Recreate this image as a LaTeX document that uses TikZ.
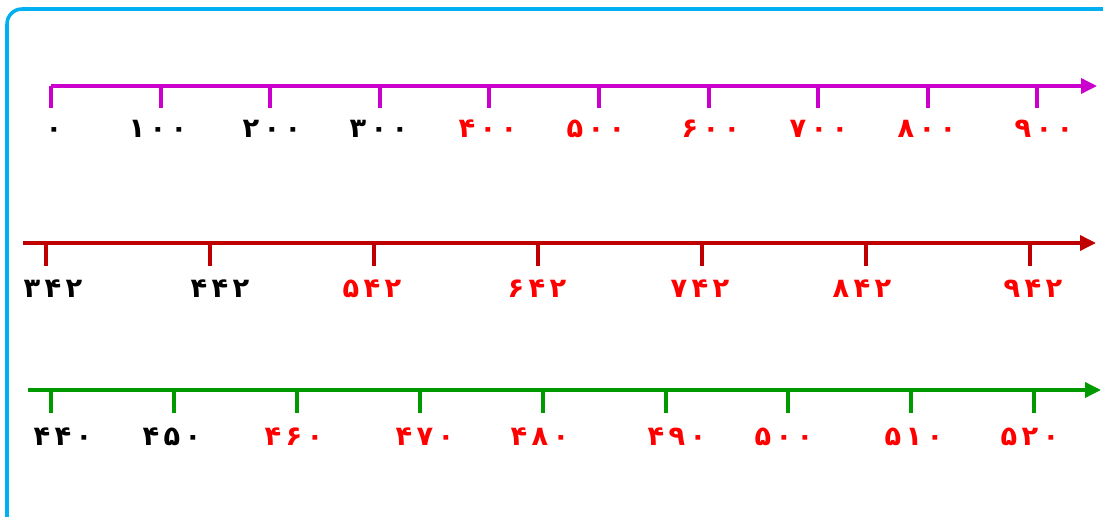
\documentclass[tikz,border=0pt]{standalone}
\usepackage{fontspec}
\usepackage{tikz}
\usetikzlibrary{arrows.meta}

\newfontfamily\persnum[Script=Arabic, LetterSpace=16]{DejaVu Sans}
\definecolor{framebl}{RGB}{0,176,240}
\definecolor{linemag}{RGB}{204,0,204}
\definecolor{linered}{RGB}{192,0,0}
\definecolor{linegrn}{RGB}{0,153,0}
\definecolor{numred}{RGB}{255,0,0}

\tikzset{
	numline/.style={line width=2pt, -{Triangle[length=0.32cm, width=0.3cm]}},
	tickmark/.style={line width=2pt},
	numlab/.style={font=\persnum\bfseries\fontsize{15.5}{18}\selectfont, inner sep=0pt, anchor=base},
}

\begin{document}
\begin{tikzpicture}[x=0.02cm, y=-0.02cm]
	\useasboundingbox (0,0) rectangle (1103,517);
	\clip (0,0) rectangle (1103,517);
	\draw [framebl, line width=2pt, rounded corners=0.3cm] (7,9) rectangle (1150,560);

	% first line: hundreds
	\coordinate (mstart) at (51,86);
	\coordinate (mend) at (1097,86);
	\draw [numline, linemag] (mstart) -- (mend);
	\foreach \x/\lx/\t/\c [count=\i] in {51/54/۰/black, 161/158/۱۰۰/black, 270/272/۲۰۰/black,
		380/379/۳۰۰/black, 489/488/۴۰۰/numred, 599/596/۵۰۰/numred, 709/711/۶۰۰/numred,
		818/819/۷۰۰/numred, 928/927/۸۰۰/numred, 1037/1044/۹۰۰/numred} {
		\coordinate (mt\i) at (\x,86);
		\coordinate (mb\i) at (\x,108);
		\draw [tickmark, linemag] (mt\i) -- (mb\i);
		\node [numlab, text=\c] (ml\i) at (\lx,138) {\t};
	}

	% second line: steps of 100 from 342
	\coordinate (rstart) at (23,243);
	\coordinate (rend) at (1096,243);
	\draw [numline, linered] (rstart) -- (rend);
	\foreach \x/\lx/\t/\c [count=\i] in {46/53/۳۴۲/black, 210/220/۴۴۲/black, 374/372/۵۴۲/numred,
		538/537/۶۴۲/numred, 702/700/۷۴۲/numred, 866/862/۸۴۲/numred, 1030/1033/۹۴۲/numred} {
		\coordinate (rt\i) at (\x,243);
		\coordinate (rb\i) at (\x,266);
		\draw [tickmark, linered] (rt\i) -- (rb\i);
		\node [numlab, text=\c] (rl\i) at (\lx,297) {\t};
	}

	% third line: tens
	\coordinate (gstart) at (28,390);
	\coordinate (gend) at (1101,390);
	\draw [numline, linegrn] (gstart) -- (gend);
	\foreach \x/\lx/\t/\c [count=\i] in {51/63/۴۴۰/black, 174/172/۴۵۰/black, 297/294/۴۶۰/numred,
		420/425/۴۷۰/numred, 543/540/۴۸۰/numred, 666/677/۴۹۰/numred, 788/784/۵۰۰/numred,
		911/914/۵۱۰/numred, 1034/1030/۵۲۰/numred} {
		\coordinate (gt\i) at (\x,390);
		\coordinate (gb\i) at (\x,413);
		\draw [tickmark, linegrn] (gt\i) -- (gb\i);
		\node [numlab, text=\c] (gl\i) at (\lx,445) {\t};
	}
\end{tikzpicture}
\end{document}
